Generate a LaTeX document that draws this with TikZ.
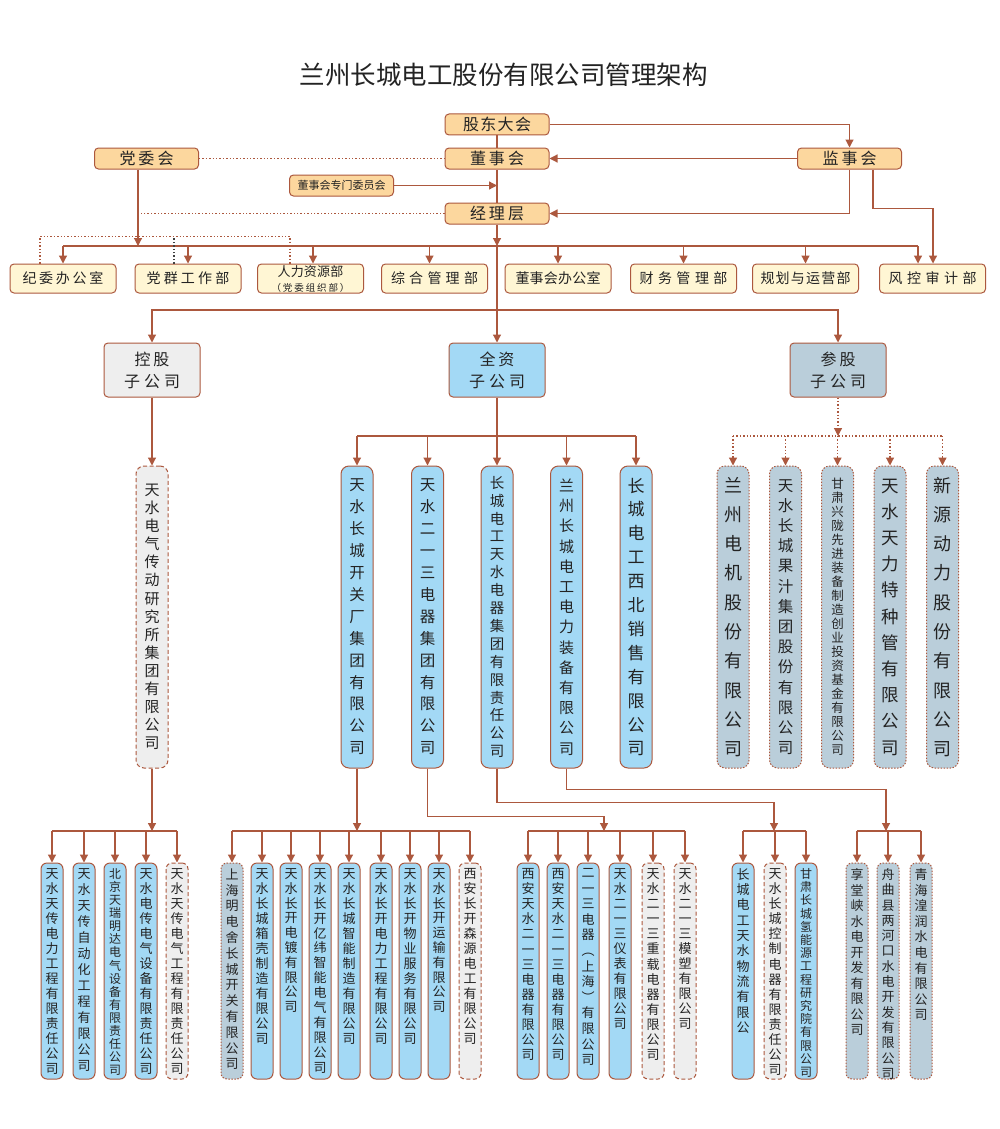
\documentclass[tikz,border=0pt]{standalone}
\usepackage{fontspec}
\setmainfont{Noto Sans CJK SC}
\usetikzlibrary{arrows.meta}
\definecolor{ln}{RGB}{172,88,62}
\definecolor{txt}{RGB}{35,35,35}
\definecolor{orf}{RGB}{252,215,158}
\definecolor{crf}{RGB}{255,246,212}
\definecolor{blf}{RGB}{163,217,245}
\definecolor{grf}{RGB}{238,238,238}
\definecolor{gbf}{RGB}{186,206,218}
\def\vcharsi#1{\ifx#1\relax\else\hbox to 0pt{\hss#1\hss}\expandafter\vcharsi\fi}
\newcommand\midtext[3]{\vbox{\fontsize{#1}{#2}\selectfont\vcharsi#3\relax}}
\newcommand\lowtext[3]{\vbox to 205pt{\fontsize{#1}{#2}\selectfont\vcharsi#3\relax\vfill}}
\def\spreadii#1{\ifx#1\relax\else\hfil#1\expandafter\spreadii\fi}
\def\spreadi#1{#1\spreadii}
\newcommand\spread[2]{\hbox to #1{\spreadi#2\relax}}
\newcommand\twolines[5]{\vbox{\baselineskip=#5\hbox to 90pt{\hss\spread{#1}{#2}\hss}\hbox to 90pt{\hss\spread{#3}{#4}\hss}}}
\begin{document}
\begin{tikzpicture}[x=1pt,y=-1pt,
 conn/.style={draw=ln,line width=1.2pt},
 arr/.style={conn,-{Triangle[width=8pt,length=8pt]}},
 dotln/.style={draw=ln,line width=1.2pt,dash pattern=on 1.4pt off 2pt},
 dotarr/.style={dotln,-{Triangle[width=8pt,length=8pt]}},
 darkdot/.style={draw=black!75,line width=1.2pt,dash pattern=on 1.4pt off 2pt},
 boxbase/.style={draw=ln,line width=1pt,inner sep=0pt,text=txt},
 topbox/.style={boxbase,fill=orf,rounded corners=4pt,minimum width=104pt,minimum height=21pt,font=\fontsize{16}{16}\selectfont},
 deptbox/.style={boxbase,fill=crf,rounded corners=4pt,minimum width=106pt,minimum height=29pt,font=\fontsize{14}{14}\selectfont},
 catbox/.style={boxbase,rounded corners=4pt,minimum width=96pt,minimum height=54pt,font=\fontsize{16}{16}\selectfont},
 midbox/.style={boxbase,rounded corners=8pt,minimum width=32pt,minimum height=302pt},
 lowbox/.style={boxbase,rounded corners=6pt,minimum width=22pt,minimum height=216pt},
 solidblue/.style={fill=blf},
 dashgray/.style={fill=grf,dash pattern=on 4pt off 2.5pt},
 dotgb/.style={fill=gbf,dash pattern=on 1.5pt off 1.5pt},
]
\fill[white] (0,0) rectangle (1000,1129);
\path[use as bounding box] (0,0) rectangle (1000,1129);

\node[font=\fontsize{25.5}{26}\selectfont,text=txt] (title) at (503.5,75) {兰州长城电工股份有限公司管理架构};

% top level
\node[topbox] (gd) at (497,124.5) {\spread{68pt}{股东大会}};
\node[topbox] (dsh) at (497,158.5) {\spread{54pt}{董事会}};
\node[topbox] (dwh) at (146.5,158.5) {\spread{54pt}{党委会}};
\node[topbox] (jsh) at (849.5,158.5) {\spread{54pt}{监事会}};
\node[topbox,font=\fontsize{11}{11}\selectfont] (zmw) at (341.5,185.5) {董事会专门委员会};
\node[topbox] (jlc) at (497,213.5) {\spread{54pt}{经理层}};

% departments
\node[deptbox] (d1) at (63,278.5) {\spread{81pt}{纪委办公室}};
\node[deptbox] (d2) at (188,278.5) {\spread{83pt}{党群工作部}};
\node[deptbox] (d3) at (310.5,278.5) {\vbox{\baselineskip=15pt\hbox to 90pt{\hss\fontsize{13}{13}\selectfont\spread{66pt}{人力资源部}\hss}\hbox to 90pt{\hss\fontsize{9.5}{10}\selectfont\spread{78pt}{（党委组织部）}\hss}}};
\node[deptbox] (d4) at (434.5,278.5) {\spread{87pt}{综合管理部}};
\node[deptbox] (d5) at (558,278.5) {\spread{85pt}{董事会办公室}};
\node[deptbox] (d6) at (683.5,278.5) {\spread{88pt}{财务管理部}};
\node[deptbox] (d7) at (805.5,278.5) {\spread{90pt}{规划与运营部}};
\node[deptbox] (d8) at (932.5,278.5) {\spread{88pt}{风控审计部}};

% categories
\node[catbox,fill=grf] (kg) at (152,370) {\twolines{35pt}{控股}{56pt}{子公司}{22pt}};
\node[catbox,fill=blf] (qz) at (497,370) {\twolines{35pt}{全资}{56pt}{子公司}{22pt}};
\node[catbox,fill=gbf] (cg) at (838,370) {\twolines{35pt}{参股}{56pt}{子公司}{22pt}};

% middle row
\node[midbox,dashgray] (m1) at (152,617) {\midtext{15}{18.1}{天水电气传动研究所集团有限公司}};
\node[midbox,solidblue] (m2) at (357,617) {\midtext{15.5}{21.9}{天水长城开关厂集团有限公司}};
\node[midbox,solidblue] (m3) at (427.5,617) {\midtext{15.5}{21.9}{天水二一三电器集团有限公司}};
\node[midbox,solidblue] (m4) at (497,617) {\midtext{14.5}{17.9}{长城电工天水电器集团有限责任公司}};
\node[midbox,solidblue] (m5) at (566.5,617) {\midtext{15}{20.2}{兰州长城电工电力装备有限公司}};
\node[midbox,solidblue] (m6) at (636,617) {\midtext{17}{23.9}{长城电工西北销售有限公司}};
\node[midbox,dotgb] (p1) at (733,617) {\midtext{18}{29.3}{兰州电机股份有限公司}};
\node[midbox,dotgb] (p2) at (785.5,617) {\midtext{15.5}{20.2}{天水长城果汁集团股份有限公司}};
\node[midbox,dotgb] (p3) at (837.5,617) {\midtext{12.5}{14}{甘肃兴陇先进装备制造创业投资基金有限公司}};
\node[midbox,dotgb] (p4) at (890,617) {\midtext{17.5}{26.2}{天水天力特种管有限公司}};
\node[midbox,dotgb] (p5) at (942.5,617) {\midtext{18}{29.3}{新源动力股份有限公司}};

% bottom row
\node[lowbox,solidblue] (a1) at (52,971) {\lowtext{13}{15}{天水天传电力工程有限责任公司}};
\node[lowbox,solidblue] (a2) at (84,971) {\lowtext{13}{16}{天水天传自动化工程有限公司}};
\node[lowbox,solidblue] (a3) at (115,971) {\lowtext{12}{13.1}{北京天瑞明达电气设备有限责任公司}};
\node[lowbox,solidblue] (a4) at (146,971) {\lowtext{13}{15}{天水电传电气设备有限责任公司}};
\node[lowbox,dashgray] (a5) at (177,971) {\lowtext{13}{15}{天水天传电气工程有限责任公司}};

\node[lowbox,dotgb] (b1) at (232,971) {\lowtext{13}{15.8}{上海明电舍长城开关有限公司}};
\node[lowbox,solidblue] (b2) at (262,971) {\lowtext{13}{15}{天水长城箱壳制造有限公司}};
\node[lowbox,solidblue] (b3) at (291,971) {\lowtext{13}{14.8}{天水长开电镀有限公司}};
\node[lowbox,solidblue] (b4) at (320,971) {\lowtext{13}{14.9}{天水长开亿纬智能电气有限公司}};
\node[lowbox,solidblue] (b5) at (349,971) {\lowtext{13}{15}{天水长城智能制造有限公司}};
\node[lowbox,solidblue] (b6) at (381,971) {\lowtext{13}{15}{天水长开电力工程有限公司}};
\node[lowbox,solidblue] (b7) at (410,971) {\lowtext{13}{15}{天水长开物业服务有限公司}};
\node[lowbox,solidblue] (b8) at (439,971) {\lowtext{13}{14.8}{天水长开运输有限公司}};
\node[lowbox,dashgray] (b9) at (470,971) {\lowtext{13}{15}{西安长开森源电工有限公司}};

\node[lowbox,solidblue] (c1) at (528,971) {\lowtext{13}{15.1}{西安天水二一三电器有限公司}};
\node[lowbox,solidblue] (c2) at (558,971) {\lowtext{13}{15.1}{西安天水二一三电器有限公司}};
\node[lowbox,solidblue] (c3) at (588,971) {\lowtext{13}{15.6}{二一三电器︵上海︶有限公司}};
\node[lowbox,solidblue] (c4) at (620,971) {\lowtext{13}{15}{天水二一三仪表有限公司}};
\node[lowbox,dashgray] (c5) at (653,971) {\lowtext{13}{15.1}{天水二一三重载电器有限公司}};
\node[lowbox,dashgray] (c6) at (685,971) {\lowtext{13}{15}{天水二一三模塑有限公司}};

\node[lowbox,solidblue] (e1) at (743,971) {\lowtext{13}{15.3}{长城电工天水物流有限公}};
\node[lowbox,dashgray] (e2) at (775,971) {\lowtext{13}{15.1}{天水长城控制电器有限责任公司}};
\node[lowbox,solidblue] (e3) at (806,971) {\lowtext{12}{13.2}{甘肃长城氢能源工程研究院有限公司}};

\node[lowbox,dotgb] (f1) at (857,971) {\lowtext{13}{15.5}{享堂峡水电开发有限公司}};
\node[lowbox,dotgb] (f2) at (888,971) {\lowtext{13}{15.3}{舟曲县两河口水电开发有限公司}};
\node[lowbox,dotgb] (f3) at (921,971) {\lowtext{13}{15.6}{青海湟润水电有限公司}};

% bus coordinates
\coordinate (busD) at (497,246);
\coordinate (busS) at (497,310);
\coordinate (busQ) at (497,436);
\coordinate (busP) at (838,436);
\coordinate (busA) at (152,831);
\coordinate (busB) at (357,831);
\coordinate (busC) at (604,831);
\coordinate (busE) at (774,831);
\coordinate (busF) at (886,831);
\coordinate (dwv) at ([xshift=-8.5pt]dwh.south);
\coordinate (jsv) at ([xshift=23.5pt]jsh.south);
\coordinate (fkv) at ([xshift=0.5pt]d8.north);

% top connectors
\draw[arr] (gd.east) -| (jsh.north);
\draw[arr] (jsh.west) -- (dsh.east);
\draw[dotln] (dwh.east) -- (dsh.west);
\draw[conn] (gd.south) -- (dsh.north);
\draw[conn] (dsh.south) -- (jlc.north);
\draw[arr] (zmw.east) -- (zmw.east -| dsh.south);
\draw[arr] (jsh.south) |- (jlc.east);
\draw[arr] (jsv) -- ++(0,39) -| (fkv);
\draw[dotln] (jlc.west) -- (jlc.west -| dwv);
\draw[arr] (dwv) -- (dwv |- busD);
\draw[arr] (jlc.south) -- (busD);

% department bus
\foreach \n/\s in {d1/0,d2/0,d3/2.5,d4/-5,d5/0,d6/0,d7/0,d8/-14.5}{
  \coordinate (\n t) at ([xshift=\s pt]\n.north);
  \draw[arr] (\n t |- busD) -- (\n t);
}
\draw[conn] (d1t |- busD) -- (d8t |- busD);
\coordinate (q1) at ([xshift=-23pt]d1.north);
\coordinate (q2) at ([xshift=-14pt]d2.north);
\coordinate (q3) at ([xshift=-20.5pt]d3.north);
\draw[dotln] (q1) -- ++(0,-27) -| (q3);
\draw[darkdot] (q2) -- ++(0,-27);

% subsidiary categories
\draw[arr] (busD) -- (qz.north);
\draw[arr] (busS) -| (kg.north);
\draw[arr] (busS) -| (cg.north);

\draw[arr] (kg.south) -- (m1.north);
\draw[conn] (qz.south) -- (busQ);
\draw[conn] (m2.north |- busQ) -- (m6.north |- busQ);
\foreach \n in {m2,m3,m4,m5,m6} \draw[arr] (\n.north |- busQ) -- (\n.north);
\draw[dotarr] (cg.south) -- (busP);
\draw[dotln] (p1.north |- busP) -- (p5.north |- busP);
\foreach \n in {p1,p2,p3,p4,p5} \draw[dotarr] (\n.north |- busP) -- (\n.north);

% bottom groups
\draw[arr] (m1.south) -- (busA);
\draw[conn] (a1.north |- busA) -- (a5.north |- busA);
\foreach \n in {a1,a2,a3,a4,a5} \draw[arr] (\n.north |- busA) -- (\n.north);

\draw[arr] (m2.south) -- (busB);
\draw[conn] (b1.north |- busB) -- (b9.north |- busB);
\foreach \n in {b1,b2,b3,b4,b5,b6,b7,b8,b9} \draw[arr] (\n.north |- busB) -- (\n.north);

\draw[arr] (m3.south) -- ++(0,48) -| (busC);
\draw[conn] (c1.north |- busC) -- (c6.north |- busC);
\foreach \n in {c1,c2,c3,c4,c5,c6} \draw[arr] (\n.north |- busC) -- (\n.north);

\draw[arr] (m4.south) -- ++(0,34) -| (busE);
\draw[conn] (e1.north |- busE) -- (e3.north |- busE);
\foreach \n in {e1,e2,e3} \draw[arr] (\n.north |- busE) -- (\n.north);

\draw[arr] (m5.south) -- ++(0,21) -| (busF);
\draw[conn] (f1.north |- busF) -- (f3.north |- busF);
\foreach \n in {f1,f2,f3} \draw[arr] (\n.north |- busF) -- (\n.north);
\end{tikzpicture}
\end{document}
